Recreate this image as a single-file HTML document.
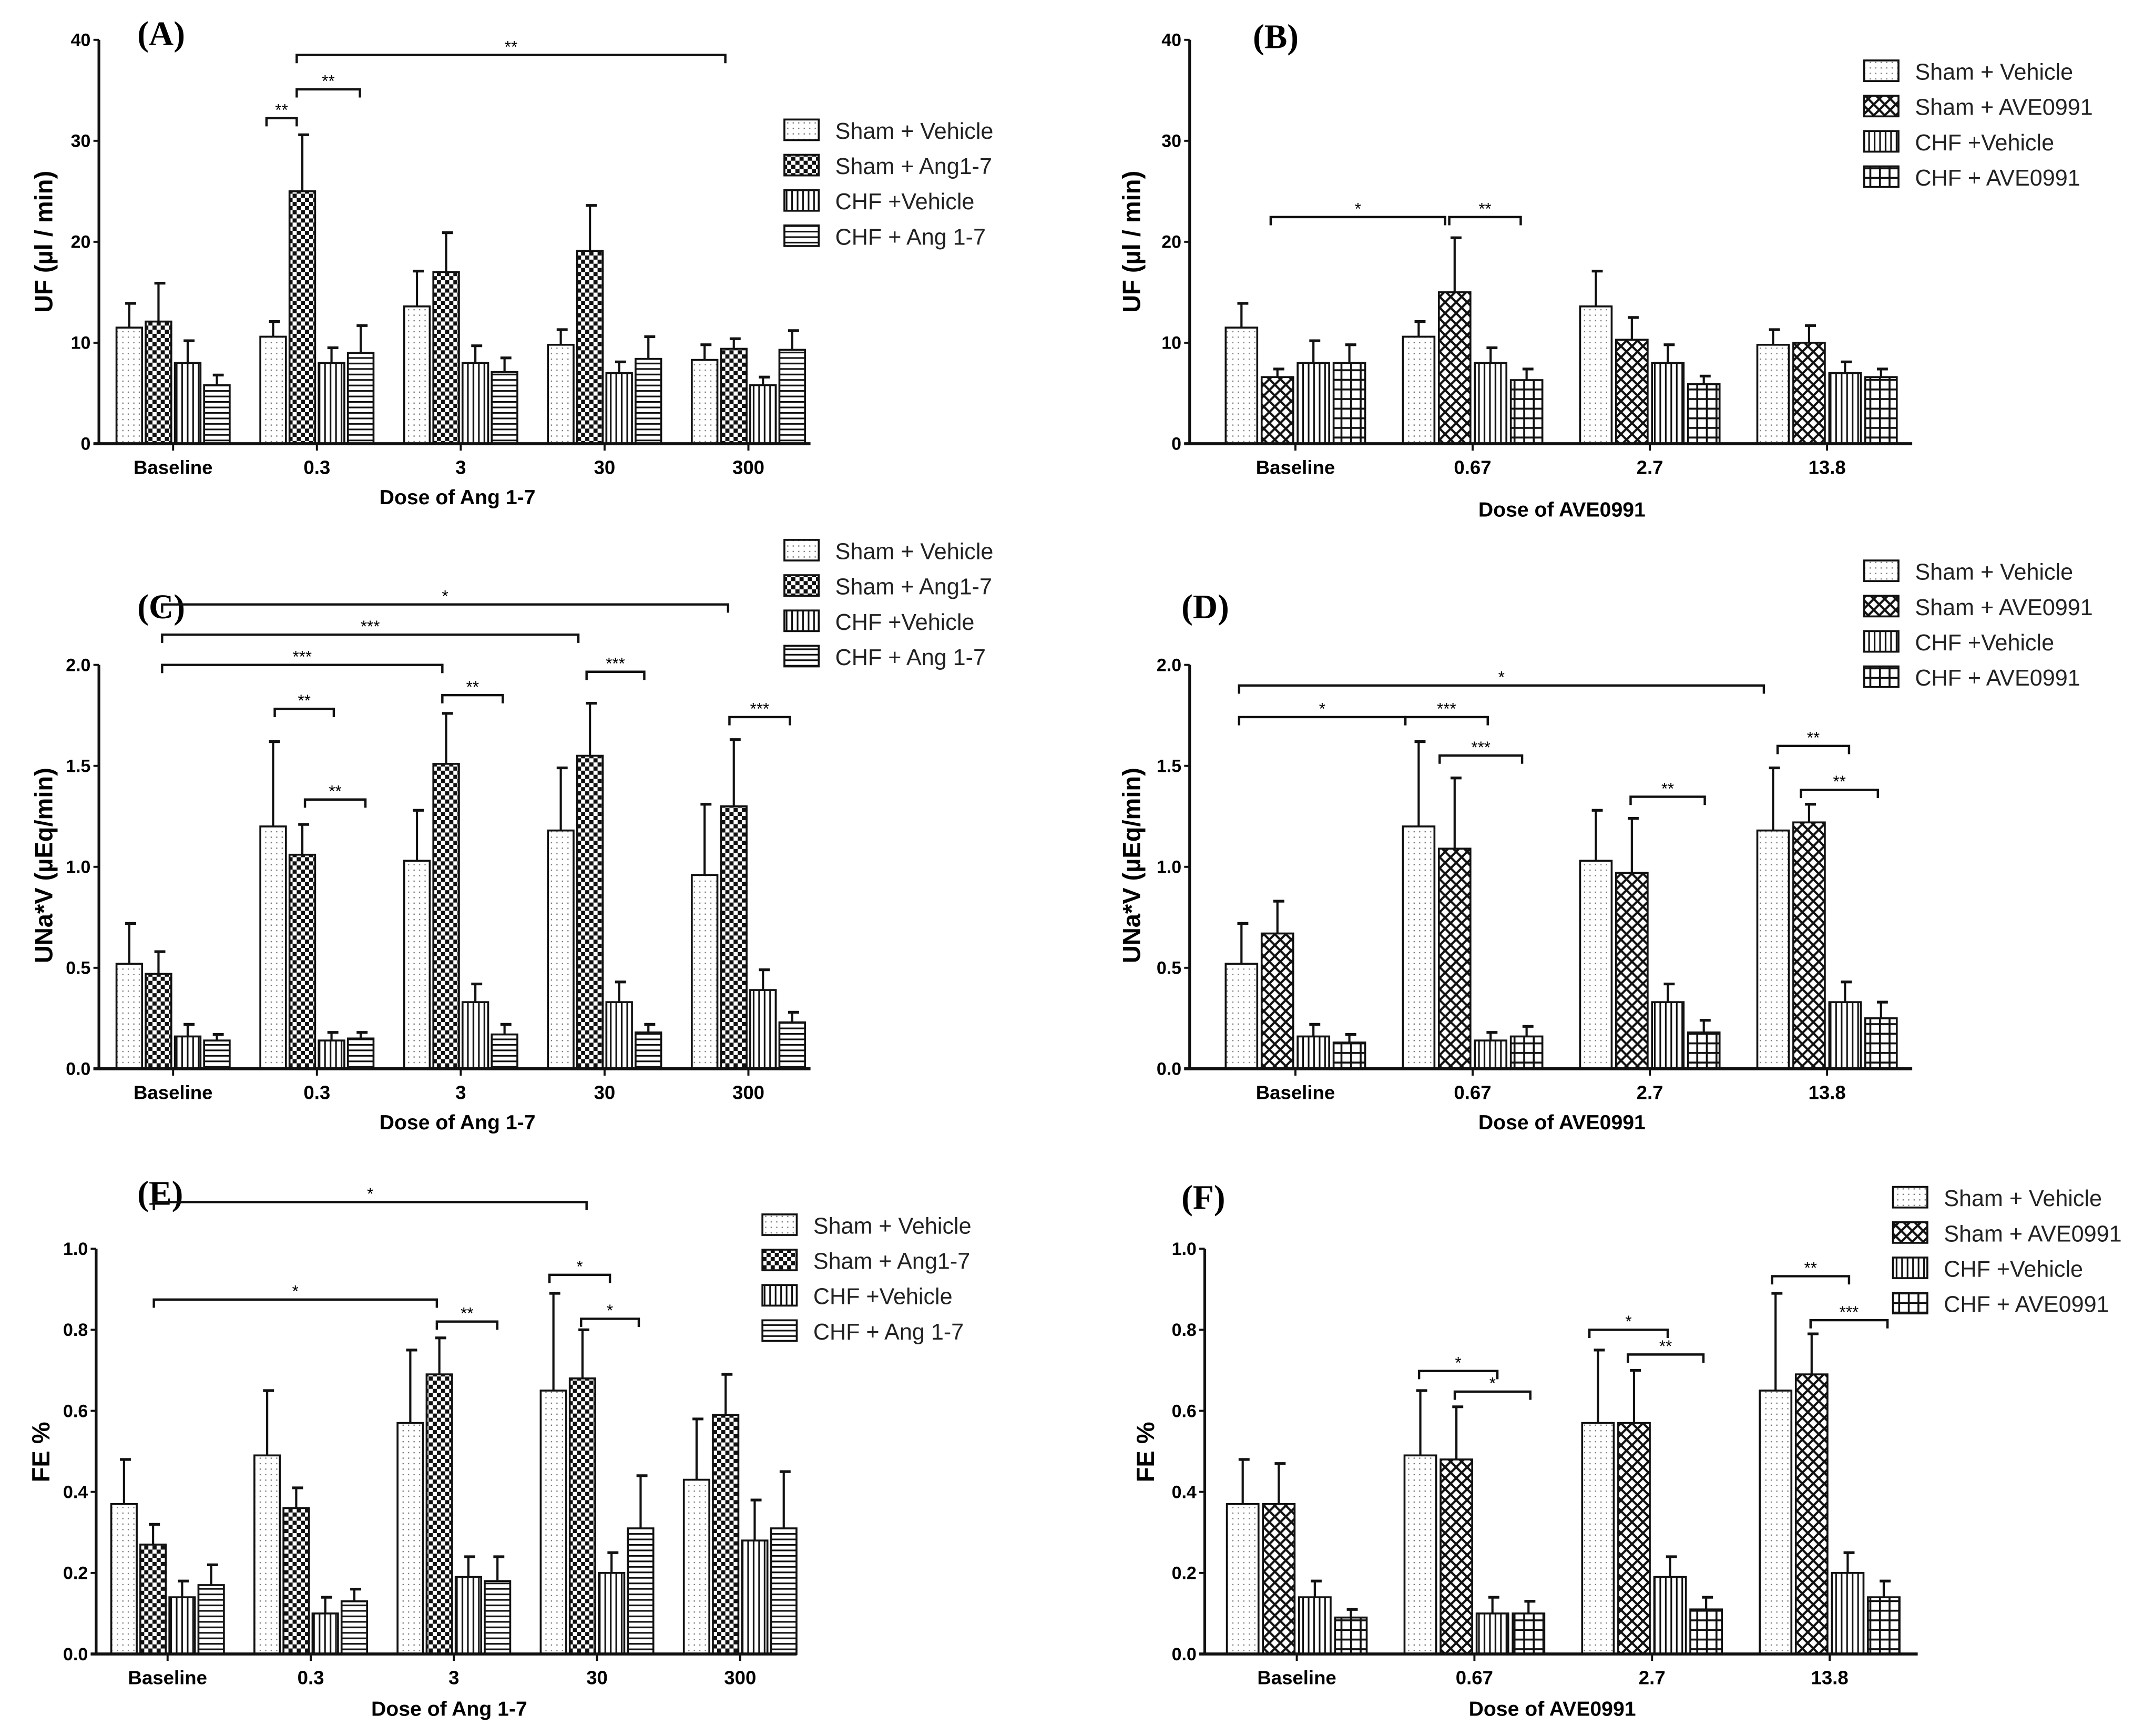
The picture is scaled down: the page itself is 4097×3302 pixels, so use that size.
<!DOCTYPE html>
<html><head><meta charset="utf-8">
<style>html,body{margin:0;padding:0;background:#fff}svg{display:block}</style></head>
<body>
<svg id="fig" width="4097" height="3302" viewBox="0 0 1568 1263.7" preserveAspectRatio="none" xmlns="http://www.w3.org/2000/svg" font-family="Liberation Sans, sans-serif">
<defs>
<pattern id="p0" width="4" height="4" patternUnits="userSpaceOnUse"><rect width="4" height="4" fill="#fff"/><rect x="1" y="1" width="0.9" height="0.9" fill="#777"/></pattern>
<pattern id="p1" width="6" height="6" patternUnits="userSpaceOnUse"><rect width="6" height="6" fill="#fff"/><rect width="3" height="3" fill="#111"/><rect x="3" y="3" width="3" height="3" fill="#111"/></pattern>
<pattern id="p2" width="4" height="4" patternUnits="userSpaceOnUse"><rect width="4" height="4" fill="#fff"/><rect x="0" width="1.2" height="4" fill="#111"/></pattern>
<pattern id="p3" width="4" height="4" patternUnits="userSpaceOnUse"><rect width="4" height="4" fill="#fff"/><rect y="0" width="4" height="1.2" fill="#111"/></pattern>
<pattern id="p4" width="8" height="8" patternUnits="userSpaceOnUse"><rect width="8" height="8" fill="#fff"/><path d="M0,0L8,8M8,0L0,8" stroke="#111" stroke-width="1.6"/></pattern>
<pattern id="p5" width="7" height="7" patternUnits="userSpaceOnUse"><rect width="7" height="7" fill="#fff"/><path d="M3.5,0V7M0,3.5H7" stroke="#111" stroke-width="1.4"/></pattern>
</defs>
</svg>
<script>
// ---- data ----
const catsAng = ["Baseline","0.3","3","30","300"];
const catsAve = ["Baseline","0.67","2.7","13.8"];
const legAng = ["Sham + Vehicle","Sham + Ang1-7","CHF +Vehicle","CHF + Ang 1-7"];
const legAve = ["Sham + Vehicle","Sham + AVE0991","CHF +Vehicle","CHF + AVE0991"];
const ticksUF = ["0","10","20","30","40"];
const ticks2 = ["0.0","0.5","1.0","1.5","2.0"];
const ticks1 = ["0.0","0.2","0.4","0.6","0.8","1.0"];

const aSV=[11.5,10.6,13.6,9.8,8.3], aSVe=[13.9,12.1,17.1,11.3,9.8];
const aSA=[12.1,25,17,19.1,9.4], aSAe=[15.9,30.6,20.9,23.6,10.4];
const aCV=[8,8,8,7,5.8], aCVe=[10.2,9.5,9.7,8.1,6.6];
const aCA=[5.8,9,7.1,8.4,9.3], aCAe=[6.8,11.7,8.5,10.6,11.2];

const bSV=[11.5,10.6,13.6,9.8], bSVe=[13.9,12.1,17.1,11.3];
const bSA=[6.6,15,10.3,10], bSAe=[7.4,20.4,12.5,11.7];
const bCV=[8,8,8,7], bCVe=[10.2,9.5,9.8,8.1];
const bCA=[8,6.3,5.9,6.6], bCAe=[9.8,7.4,6.7,7.4];

const cSV=[0.52,1.2,1.03,1.18,0.96], cSVe=[0.72,1.62,1.28,1.49,1.31];
const cSA=[0.47,1.06,1.51,1.55,1.3], cSAe=[0.58,1.21,1.76,1.81,1.63];
const cCV=[0.16,0.14,0.33,0.33,0.39], cCVe=[0.22,0.18,0.42,0.43,0.49];
const cCA=[0.14,0.15,0.17,0.18,0.23], cCAe=[0.17,0.18,0.22,0.22,0.28];

const dSV=[0.52,1.2,1.03,1.18], dSVe=[0.72,1.62,1.28,1.49];
const dSA=[0.67,1.09,0.97,1.22], dSAe=[0.83,1.44,1.24,1.31];
const dCV=[0.16,0.14,0.33,0.33], dCVe=[0.22,0.18,0.42,0.43];
const dCA=[0.13,0.16,0.18,0.25], dCAe=[0.17,0.21,0.24,0.33];

const eSV=[0.37,0.49,0.57,0.65,0.43], eSVe=[0.48,0.65,0.75,0.89,0.58];
const eSA=[0.27,0.36,0.69,0.68,0.59], eSAe=[0.32,0.41,0.78,0.8,0.69];
const eCV=[0.14,0.10,0.19,0.20,0.28], eCVe=[0.18,0.14,0.24,0.25,0.38];
const eCA=[0.17,0.13,0.18,0.31,0.31], eCAe=[0.22,0.16,0.24,0.44,0.45];

const fSV=[0.37,0.49,0.57,0.65], fSVe=[0.48,0.65,0.75,0.89];
const fSA=[0.37,0.48,0.57,0.69], fSAe=[0.47,0.61,0.70,0.79];
const fCV=[0.14,0.10,0.19,0.20], fCVe=[0.18,0.14,0.24,0.25];
const fCA=[0.09,0.10,0.11,0.14], fCAe=[0.11,0.13,0.14,0.18];

const NS="http://www.w3.org/2000/svg";
const svg=document.getElementById('fig');
function mk(tag,attrs,parent,text){const e=document.createElementNS(NS,tag);for(const k in attrs)e.setAttribute(k,attrs[k]);if(text!==undefined)e.textContent=text;(parent||svg).appendChild(e);return e;}

function panel(o){
  const g=mk('g',{});
  
  
  const y=v=>o.y0-(v/o.ymax)*(o.y0-o.y1);
  const x=i=>o.c0+o.step*i;
  const bw=o.step*0.178, bs=o.step*0.203;
  o.series.forEach((s,si)=>{
    s.v.forEach((v,i)=>{
      const bx=x(i)-2*bs+si*bs+(bs-bw)/2;
      const top=s.e[i];
      const l=mk('line',{x1:bx+bw/2,x2:bx+bw/2,y1:y(v),y2:y(top),stroke:'#111','stroke-width':1.6},g);
      
      
      const c=mk('line',{x1:bx+bw/2-3,x2:bx+bw/2+5,y1:y(top),y2:y(top),stroke:'#111','stroke-width':2},g);
      
      
      const r=mk('rect',{x:bx,y:y(v),width:bw,height:o.y0-y(v),fill:'url(#'+s.p+')',stroke:'#111','stroke-width':1.4},g);
      
      
    });
  });
  const ya=mk('line',{x1:o.ax,x2:o.ax,y1:o.y1,y2:o.y0,stroke:'#111','stroke-width':2},g);
  
  
  const xa=mk('line',{x1:o.ax-4,x2:o.axEnd,y1:o.y0,y2:o.y0,stroke:'#111','stroke-width':2.2},g);
  
  
  o.ticks.forEach((t,i)=>{
    const v=i*o.ymax/(o.ticks.length-1);
    mk('line',{x1:o.ax-4,x2:o.ax,y1:y(v),y2:y(v),stroke:'#111','stroke-width':1.5},g);
    const tl=mk('text',{x:o.ax-6,y:y(v)+4.5,'text-anchor':'end','font-size':13,'font-weight':'bold'},g,t);
    
    
  });
  o.cats.forEach((c,i)=>{
    mk('line',{x1:x(i),x2:x(i),y1:o.y0,y2:o.y0+5,stroke:'#111','stroke-width':1.5},g);
    const tl=mk('text',{x:x(i),y:o.y0+22,'text-anchor':'middle','font-size':14,'font-weight':'bold'},g,c);
    
    
  });
  const xt=mk('text',{x:o.xtx,y:o.xty,'text-anchor':'middle','font-size':15,'font-weight':'bold'},g,o.xtitle);
  
  
  const yt=mk('text',{x:0,y:0,transform:'translate('+o.ytx+','+o.yty+') rotate(-90)','text-anchor':'middle','font-size':18,'font-weight':'bold'},g,o.ytitle);
  
  
  const pl=mk('text',{x:o.lx,y:o.ly,'font-size':25,'font-weight':'bold','font-family':'Liberation Serif, serif'},g,'('+o.id+')');
  
  
  o.leg.forEach((t,i)=>{
    const ly=o.legY+i*25.7;
    const lb=mk('rect',{x:o.legX,y:ly-8,width:25,height:15,fill:'url(#'+o.series[i].p+')',stroke:'#111','stroke-width':1.4},g);
    
    
    const lt=mk('text',{x:o.legX+37,y:ly+6,'font-size':16.5,fill:'#222'},g,t);
    
    
  });
  o.br.forEach(b=>{
    const p=mk('path',{d:'M'+b[0]+','+(b[2]+6)+'V'+b[2]+'H'+b[1]+'V'+(b[2]+6),fill:'none',stroke:'#111','stroke-width':1.7},g);
    
    
    const s=mk('text',{x:(b[0]+b[1])/2,y:b[2]-2,'text-anchor':'middle','font-size':12},g,b[3]);
    
    
  });
  return g;
}

panel({id:'A',cats:catsAng,ticks:ticksUF,ymax:40,y0:323,y1:29,ax:72,axEnd:590,c0:126,step:104.7,
  series:[{v:aSV,e:aSVe,p:'p0'},{v:aSA,e:aSAe,p:'p1'},{v:aCV,e:aCVe,p:'p2'},{v:aCA,e:aCAe,p:'p3'}],
  leg:legAng,legX:571,legY:95,xtitle:'Dose of Ang 1-7',xtx:333,xty:367,ytitle:'UF (µl / min)',ytx:38,yty:176,lx:100,ly:33,
  br:[[216,528,40,'**'],[216,262,65,'**'],[194,216,86,'**']]});
panel({id:'B',cats:catsAve,ticks:ticksUF,ymax:40,y0:323,y1:29,ax:866,axEnd:1392,c0:943,step:129,
  series:[{v:bSV,e:bSVe,p:'p0'},{v:bSA,e:bSAe,p:'p4'},{v:bCV,e:bCVe,p:'p2'},{v:bCA,e:bCAe,p:'p5'}],
  leg:legAve,legX:1357,legY:52,xtitle:'Dose of AVE0991',xtx:1137,xty:376,ytitle:'UF (µl / min)',ytx:830,yty:176,lx:912,ly:35,
  br:[[925,1052,158,'*'],[1055,1107,158,'**']]});
panel({id:'C',cats:catsAng,ticks:ticks2,ymax:2,y0:778,y1:484,ax:72,axEnd:590,c0:126,step:104.7,
  series:[{v:cSV,e:cSVe,p:'p0'},{v:cSA,e:cSAe,p:'p1'},{v:cCV,e:cCVe,p:'p2'},{v:cCA,e:cCAe,p:'p3'}],
  leg:legAng,legX:571,legY:401,xtitle:'Dose of Ang 1-7',xtx:333,xty:822,ytitle:'UNa*V (µEq/min)',ytx:38,yty:630,lx:100,ly:450,
  br:[[118,530,440,'*'],[118,421,462,'***'],[118,322,484,'***'],[200,243,516,'**'],[222,266,582,'**'],[322,366,506,'**'],[427,469,489,'***'],[531,575,522,'***']]});
panel({id:'D',cats:catsAve,ticks:ticks2,ymax:2,y0:778,y1:484,ax:866,axEnd:1392,c0:943,step:129,
  series:[{v:dSV,e:dSVe,p:'p0'},{v:dSA,e:dSAe,p:'p4'},{v:dCV,e:dCVe,p:'p2'},{v:dCA,e:dCAe,p:'p5'}],
  leg:legAve,legX:1357,legY:416,xtitle:'Dose of AVE0991',xtx:1137,xty:822,ytitle:'UNa*V (µEq/min)',ytx:830,yty:630,lx:860,ly:450,
  br:[[902,1284,499,'*'],[902,1023,522,'*'],[1023,1083,522,'***'],[1048,1108,550,'***'],[1187,1241,580,'**'],[1294,1346,543,'**'],[1311,1367,575,'**']]});
panel({id:'E',cats:catsAng,ticks:ticks1,ymax:1,y0:1204,y1:909,ax:70,axEnd:580,c0:122,step:104.2,
  series:[{v:eSV,e:eSVe,p:'p0'},{v:eSA,e:eSAe,p:'p1'},{v:eCV,e:eCVe,p:'p2'},{v:eCA,e:eCAe,p:'p3'}],
  leg:legAng,legX:555,legY:892,xtitle:'Dose of Ang 1-7',xtx:327,xty:1249,ytitle:'FE %',ytx:36,yty:1057,lx:100,ly:877,
  br:[[112,427,875,'*'],[112,318,946,'*'],[318,362,962,'**'],[400,444,928,'*'],[423,465,960,'*']]});
panel({id:'F',cats:catsAve,ticks:ticks1,ymax:1,y0:1204,y1:909,ax:877,axEnd:1396,c0:944,step:129.3,
  series:[{v:fSV,e:fSVe,p:'p0'},{v:fSA,e:fSAe,p:'p4'},{v:fCV,e:fCVe,p:'p2'},{v:fCA,e:fCAe,p:'p5'}],
  leg:legAve,legX:1378,legY:872,xtitle:'Dose of AVE0991',xtx:1130,xty:1249,ytitle:'FE %',ytx:840,yty:1057,lx:860,ly:880,
  br:[[1033,1090,998,'*'],[1059,1114,1013,'*'],[1157,1214,968,'*'],[1185,1240,986,'**'],[1290,1346,929,'**'],[1318,1374,961,'***']]});
</script>
</body></html>
